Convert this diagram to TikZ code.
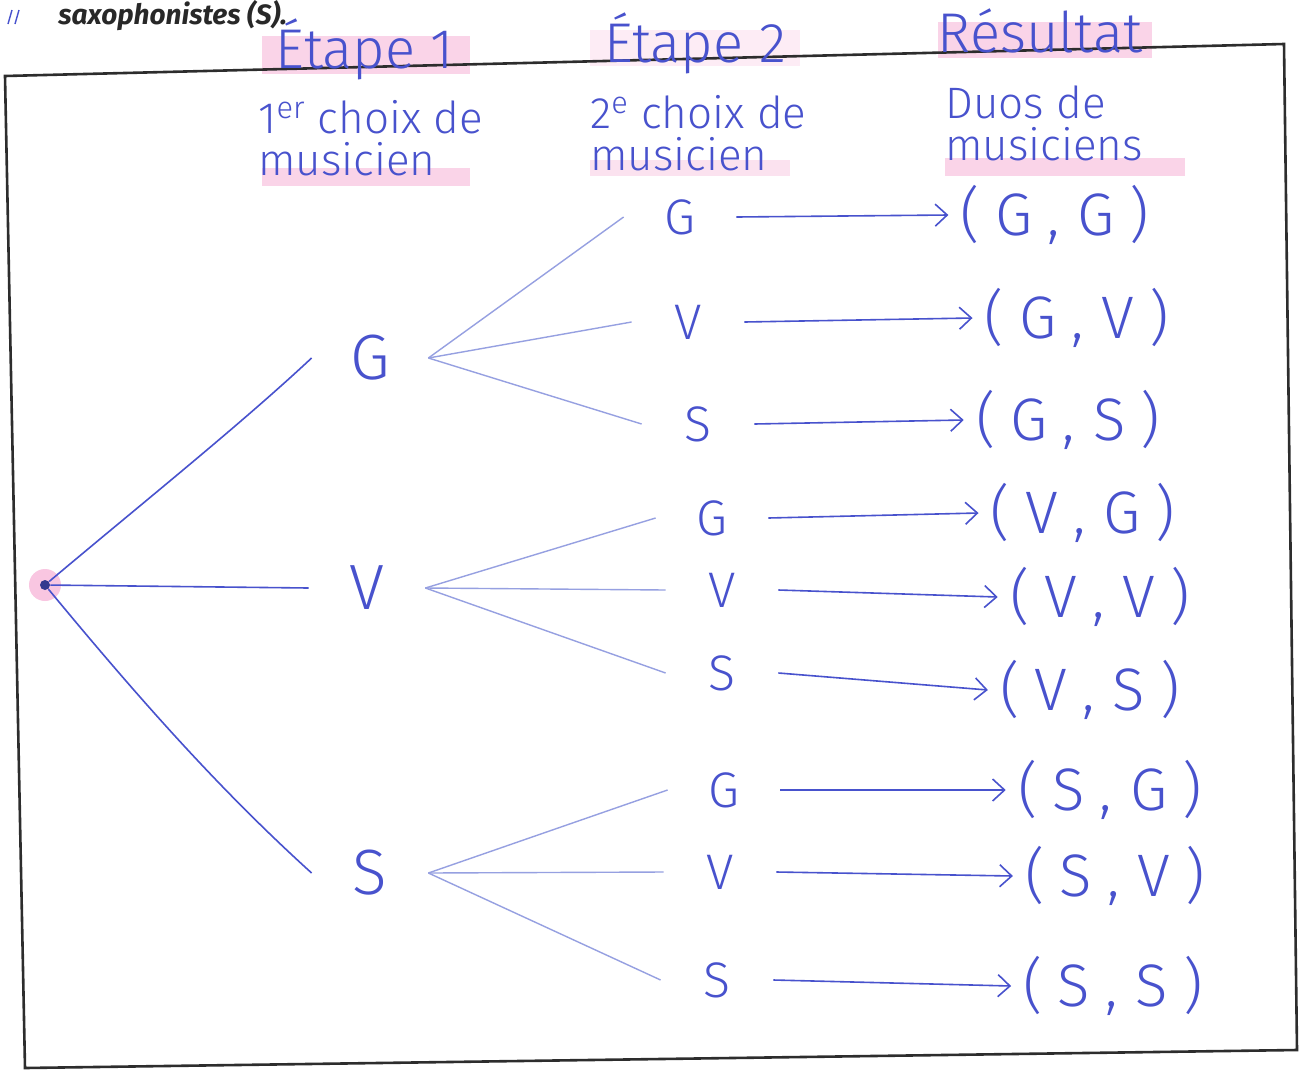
\documentclass[tikz,border=0pt]{standalone}
\usepackage{fontspec}
\newfontfamily\hand{Fira Sans Light}
\newfontfamily\book{Fira Sans}
\usetikzlibrary{arrows.meta}
\definecolor{ink}{RGB}{72,82,205}
\definecolor{faint}{RGB}{150,160,225}
\definecolor{hl}{RGB}{245,160,205}
\definecolor{frame}{RGB}{45,45,45}
\definecolor{booktxt}{RGB}{40,40,40}
\tikzset{
  lvlone/.style={text=ink, font=\hand\fontsize{32}{32}\selectfont, minimum width=58pt, inner sep=0pt},
  lvltwo/.style={text=ink, font=\hand\fontsize{25}{25}\selectfont, minimum width=56pt, inner sep=0pt},
  duo/.style={text=ink, font=\hand\fontsize{30}{30}\selectfont, inner sep=6pt},
  head/.style={text=ink, font=\hand\fontsize{28}{28}\selectfont, inner sep=0pt, anchor=base},
  sub/.style={text=ink, font=\hand\fontsize{22}{21}\selectfont, align=left, anchor=north west, inner sep=0pt},
  branch/.style={draw=ink, line width=0.8pt},
  twig/.style={draw=faint, line width=0.7pt},
  pointer/.style={draw=ink, line width=0.8pt, -{Straight Barb[length=6pt,width=11pt]}},
  hilite/.style={fill=hl, opacity=0.45}
}
\newcommand\pair[2]{(\hspace{0.25em}#1\hspace{0.25em},\hspace{0.3em}#2\hspace{0.25em})}
\begin{document}
\begin{tikzpicture}[x=0.5pt,y=-0.5pt]
\useasboundingbox (0,0) rectangle (1302,1072);
\fill[white] (0,0) rectangle (1302,1072);
% highlights
\fill[hilite] (262,36) rectangle (470,74);
\fill[hilite, opacity=0.2] (590,30) rectangle (800,66);
\fill[hilite] (938,22) rectangle (1152,58);
\fill[hilite] (262,168) rectangle (470,186);
\fill[hilite, opacity=0.3] (590,160) rectangle (790,176);
\fill[hilite] (945,158) rectangle (1185,176);
% book text
\node[anchor=base west, text=booktxt, font=\book\bfseries\itshape\fontsize{14}{14}\selectfont, inner sep=0pt] (book) at (58,24) {saxophonistes (S).};
\draw[ink, line width=0.7pt] (8,24) -- (12,10) (15,24) -- (19,10);
% frame
\draw[frame, line width=1.3pt] (5,76) -- (1284,44) -- (1297,1050) -- (25,1068) -- cycle;
% headers
\node[head] (h1) at (365,68) {Étape 1};
\node[head] (h2) at (695,62) {Étape 2};
\node[head] (h3) at (1040,52) {Résultat};
\node[sub] (s1) at (258,100) {1\textsuperscript{er} choix de\\musicien};
\node[sub] (s2) at (590,95) {2\textsuperscript{e} choix de\\musicien};
\node[sub] (s3) at (945,85) {Duos de\\musiciens};
% root
\fill[hl, opacity=0.6] (45,585) circle (8pt);
\node[circle, fill=ink!70!black, inner sep=0pt, minimum size=5pt] (root) at (45,585) {};
% level 1
\node[lvlone] (G) at (370,358) {G};
\node[lvlone] (V) at (367,588) {V};
\node[lvlone] (S) at (370,873) {S};
% level 2
\node[lvltwo] (GG) at (680,217) {G};
\node[lvltwo] (GV) at (688,322) {V};
\node[lvltwo] (GS) at (698,424) {S};
\node[lvltwo] (VG) at (712,518) {G};
\node[lvltwo] (VV) at (722,590) {V};
\node[lvltwo] (VS) at (722,673) {S};
\node[lvltwo] (SG) at (724,790) {G};
\node[lvltwo] (SV) at (720,872) {V};
\node[lvltwo] (SS) at (717,980) {S};
% results
\node[duo] (rGG) at (1055,215) {\pair{G}{G}};
\node[duo] (rGV) at (1077,318) {\pair{G}{V}};
\node[duo] (rGS) at (1068,420) {\pair{G}{S}};
\node[duo] (rVG) at (1083,513) {\pair{V}{G}};
\node[duo] (rVV) at (1100,597) {\pair{V}{V}};
\node[duo] (rVS) at (1090,690) {\pair{V}{S}};
\node[duo] (rSG) at (1110,790) {\pair{S}{G}};
\node[duo] (rSV) at (1115,876) {\pair{S}{V}};
\node[duo] (rSS) at (1113,986) {\pair{S}{S}};
% branches
\draw[branch] (root) .. controls (140,505) and (240,425) .. (G.west);
\draw[branch] (root) -- (V.west);
\draw[branch] (root) .. controls (140,700) and (220,790) .. (S.west);
\foreach \a in {G,V,S}{
  \foreach \b in {G,V,S}{
    \draw[twig] (\a.east) -- (\a\b.west);
    \draw[pointer] (\a\b.east) -- (r\a\b.west);
  }
}
\end{tikzpicture}
\end{document}
